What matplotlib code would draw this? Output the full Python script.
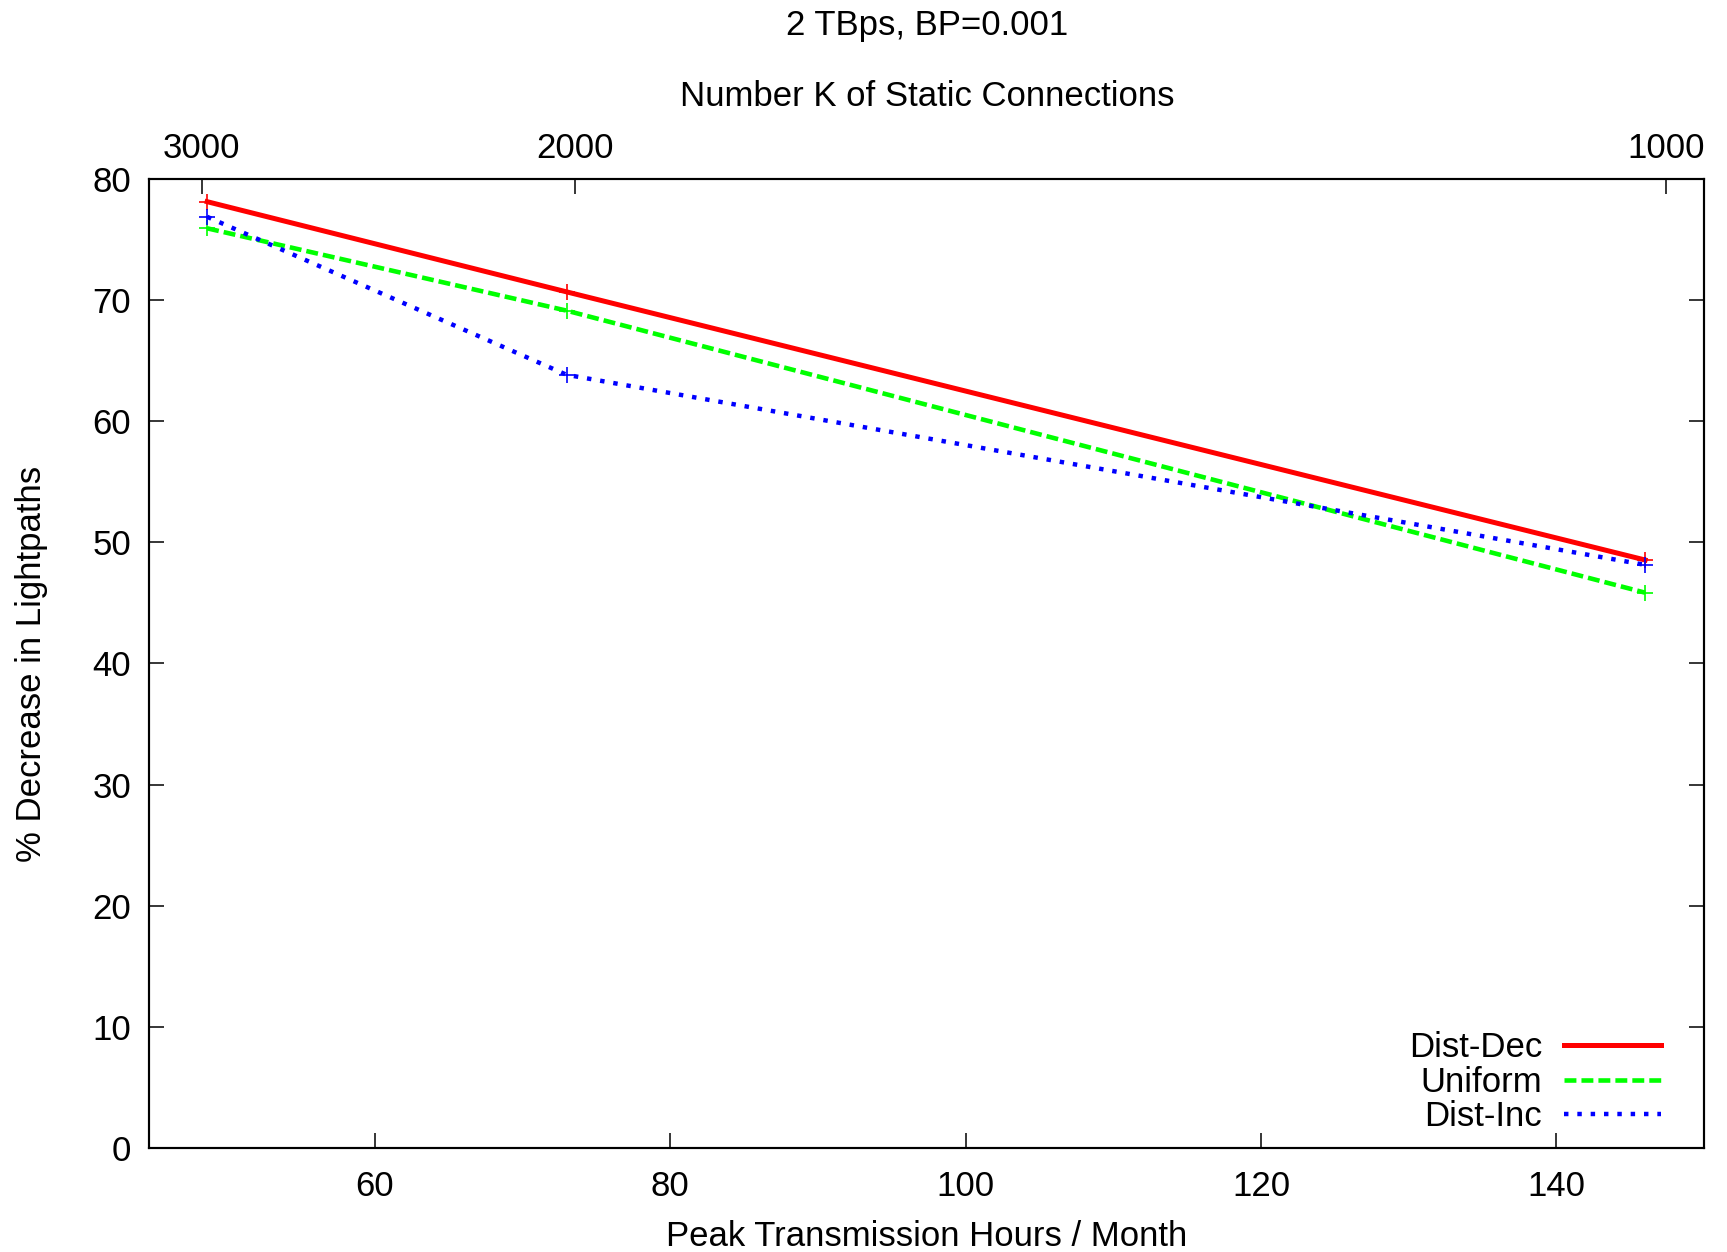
import matplotlib
matplotlib.use("Agg")
import matplotlib.pyplot as plt

plt.rcParams['font.family'] = ['Liberation Sans', 'DejaVu Sans']

# Data
hours = [48.67, 73.0, 146.0]
dist_dec = [78.15, 70.7, 48.55]
uniform = [75.95, 69.15, 45.85]
dist_inc = [76.9, 63.85, 48.15]

series_names = ["Dist-Dec", "Uniform", "Dist-Inc"]
series_colors = ["#ff0000", "#00ff00", "#0000ff"]

x_ticks = [60, 80, 100, 120, 140]
y_ticks = [0, 10, 20, 30, 40, 50, 60, 70, 80]
top_tick_pos = [48.3, 73.6, 147.4]
top_tick_labels = ["3000", "2000", "1000"]

title = "2 TBps, BP=0.001"
xlabel = "Peak Transmission Hours / Month"
x2label = "Number K of Static Connections"
ylabel = "% Decrease in Lightpaths"

FS = 25

fig = plt.figure(figsize=(17.27, 12.52), dpi=100)
ax = fig.add_axes([0.0865, 0.0833, 0.9003, 0.7735])

styles = [
    dict(lw=3.6, linestyle='-'),
    dict(lw=3.3, linestyle=(0, (2.6, 1.1))),
    dict(lw=3.2, linestyle=(0, (1.0, 2.0))),
]
for ys, name, c, st in zip([dist_dec, uniform, dist_inc], series_names, series_colors, styles):
    ax.plot(hours, ys, color=c, label=name, **st)
for ys, c in zip([dist_dec, uniform, dist_inc], series_colors):
    ax.plot(hours, ys, linestyle='none', marker='+', markersize=12, mew=1.2, color=c)

ax.set_xlim(44.76, 150)
ax.set_ylim(0, 80)
ax.set_xticks(x_ticks)
ax.set_yticks(y_ticks)
ax.tick_params(axis='both', direction='in', length=10.8, width=1.1, labelsize=FS, pad=13)
ax.tick_params(axis='x', top=False, pad=16)
ax.tick_params(axis='y', right=True)
for s in ax.spines.values():
    s.set_linewidth(1.5)

ax2 = ax.twiny()
ax2.set_xlim(ax.get_xlim())
ax2.set_xticks(top_tick_pos)
ax2.set_xticklabels(top_tick_labels)
ax2.tick_params(axis='x', direction='in', length=10.8, width=1.1, labelsize=FS, pad=10.6)
for s in ax2.spines.values():
    s.set_linewidth(1.5)

ax.set_xlabel(xlabel, fontsize=FS)
ax.xaxis.set_label_coords(0.5, -0.0748)
ax.set_ylabel(ylabel, fontsize=FS)
ax.yaxis.set_label_coords(-0.065, 0.5)
ax2.set_xlabel(x2label, fontsize=FS)
ax2.xaxis.set_label_coords(0.5, 1.0755)
ax2.set_title(title, fontsize=FS, y=1.1404)

leg = ax.legend(loc='lower right', bbox_to_anchor=(0.9722, 0.015), frameon=False,
                markerfirst=False, fontsize=FS, handlelength=2.8, handletextpad=0.63,
                labelspacing=0.04, borderpad=0, borderaxespad=0)

fig.savefig("out.png", dpi=100)
